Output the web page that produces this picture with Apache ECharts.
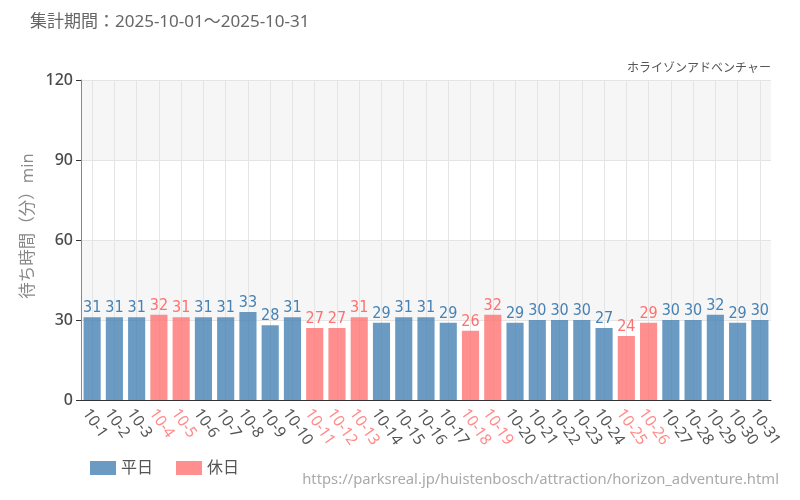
<!DOCTYPE html>
<html>
<head>
<meta charset="utf-8">
<style>html,body{margin:0;padding:0;background:#fff}#echart{width:800px;height:500px}</style>
<script src="https://cdn.jsdelivr.net/npm/echarts@6/dist/echarts.min.js"></script>
</head>
<body>
<div id="echart"></div>
<script>
var days = ['10-1','10-2','10-3','10-4','10-5','10-6','10-7','10-8','10-9','10-10','10-11','10-12','10-13','10-14','10-15','10-16','10-17','10-18','10-19','10-20','10-21','10-22','10-23','10-24','10-25','10-26','10-27','10-28','10-29','10-30','10-31'];
var weekday = [31,31,31,null,null,31,31,33,28,31,null,null,null,29,31,31,29,null,null,29,30,30,30,27,null,null,30,30,32,29,30];
var holiday = [null,null,null,32,31,null,null,null,null,null,27,27,31,null,null,null,null,26,32,null,null,null,null,null,24,29,null,null,null,null,null];
var yTicks = [0,30,60,90,120];

var fontJp = '"Noto Sans", "Noto Sans CJK JP", sans-serif';
// condensed digits over the bars
var fontNum = '"DejaVu Sans Condensed", "Noto Sans", sans-serif';

var myChart = echarts.init(document.getElementById('echart'));

function barSeries(name, values, color, labelColor) {
    return {
        name: name,
        type: 'bar',
        stack: 'day',
        barWidth: '77%',
        data: values,
        itemStyle: { color: color, borderRadius: 0 },
        label: {
            show: true,
            position: 'top',
            distance: 1,
            color: labelColor,
            fontFamily: fontNum,
            fontSize: 16
        }
    };
}

var option = {
    backgroundColor: '#fff',
    textStyle: { fontFamily: fontJp },
    title: [
        { text: '集計期間：2025-10-01～2025-10-31', left: 30, top: 14, padding: 0,
          textStyle: { color: '#666', fontSize: 17, fontWeight: 'normal', fontFamily: fontJp } },
        { text: 'ホライゾンアドベンチャー', right: 29, top: 63, padding: 0,
          textStyle: { color: '#555', fontSize: 12, fontWeight: 'normal', fontFamily: fontJp } },
        { text: 'https://parksreal.jp/huistenbosch/attraction/horizon_adventure.html', right: 21, top: 472, padding: 0,
          textStyle: { color: '#aaa', fontSize: 14.8, fontWeight: 'normal', fontFamily: fontJp } }
    ],
    legend: {
        left: 90,
        top: 460,
        padding: 0,
        icon: 'rect',
        itemWidth: 26,
        itemHeight: 14,
        itemGap: 23,
        textStyle: { color: '#555', fontSize: 16, fontFamily: fontJp },
        data: ['平日', '休日']
    },
    grid: { left: 81, right: 29, top: 80, bottom: 100 },
    xAxis: {
        type: 'category',
        data: days,
        axisLine: { lineStyle: { color: '#333' } },
        axisTick: { alignWithLabel: true, lineStyle: { color: '#333' } },
        splitLine: { show: true, alignWithLabel: true, lineStyle: { color: '#e4e4e4' } },
        axisLabel: {
            interval: 0,
            rotate: -55,
            margin: 6,
            verticalAlign: 'top',
            fontSize: 15.5,
            fontFamily: fontJp,
            color: function (value, index) {
                return holiday[index] !== null ? '#ff8a8a' : '#555';
            }
        }
    },
    yAxis: {
        type: 'value',
        min: yTicks[0],
        max: yTicks[yTicks.length - 1],
        interval: yTicks[1] - yTicks[0],
        name: '待ち時間（分）min',
        nameLocation: 'middle',
        nameGap: 44,
        nameMoveOverlap: false,
        nameTextStyle: { color: '#888', fontSize: 16.5, fontFamily: fontJp, padding: [0, 0, 0, 28] },
        axisLine: { show: true, lineStyle: { color: '#888' } },
        axisTick: { show: true, length: 5, lineStyle: { color: '#333' } },
        axisLabel: { color: '#4a4a4a', fontSize: 16, fontFamily: fontJp, fontWeight: 500 },
        splitLine: { show: true, lineStyle: { color: '#e4e4e4' } },
        splitArea: { show: true, areaStyle: { color: ['#fff', '#f6f6f6'] } }
    },
    series: [
        barSeries('平日', weekday, 'rgba(70,130,180,0.8)', '#4682b4'),
        barSeries('休日', holiday, 'rgba(255,115,115,0.8)', '#ff7070')
    ]
};
myChart.setOption(option);
</script>
</body>
</html>
